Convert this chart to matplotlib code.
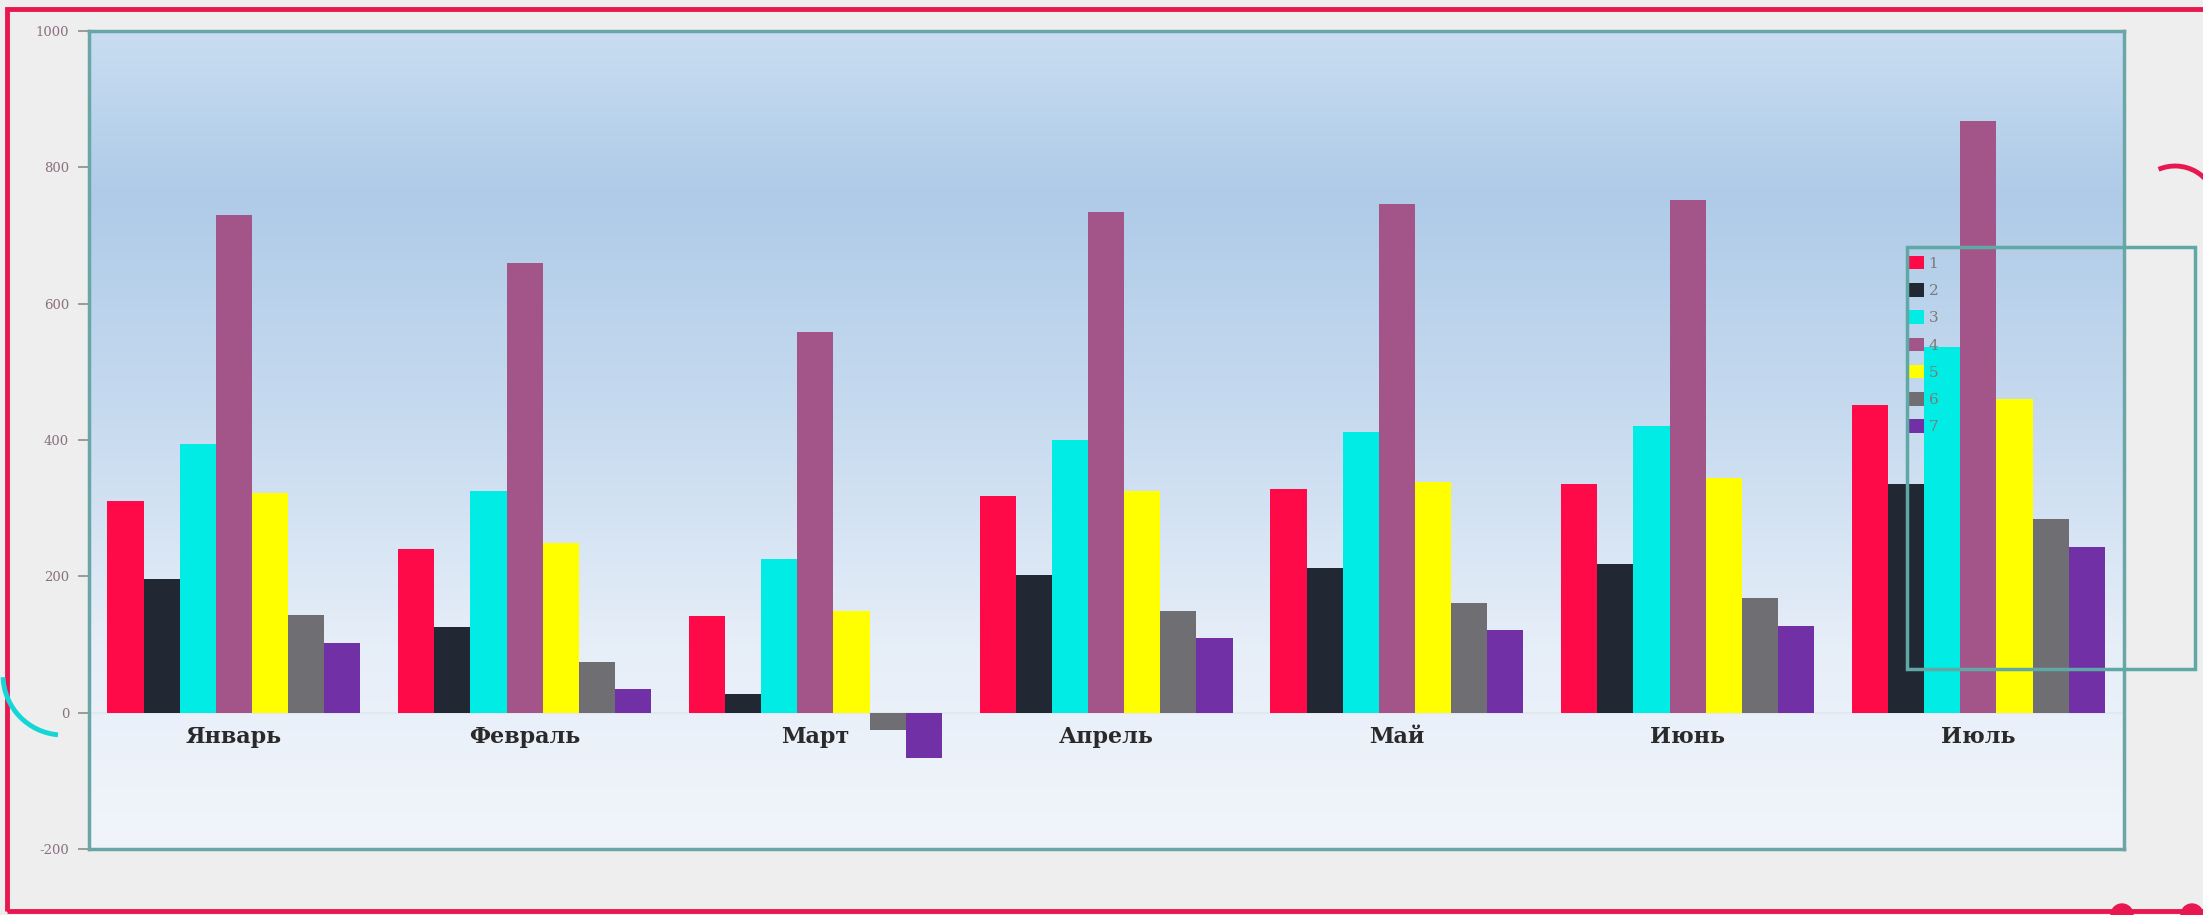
import matplotlib
matplotlib.use("Agg")
import matplotlib.pyplot as plt
import numpy as np
from matplotlib.colors import LinearSegmentedColormap
from matplotlib.patches import Rectangle, Arc, Ellipse

plt.rcParams["axes.unicode_minus"] = False

# Data
months = ["Январь", "Февраль", "Март", "Апрель", "Май", "Июнь", "Июль"]
series_names = ["1", "2", "3", "4", "5", "6", "7"]
s1 = [311, 241, 142, 318, 328, 336, 452]
s2 = [196, 126, 27, 202, 212, 218, 336]
s3 = [394, 326, 225, 400, 412, 420, 536]
s4 = [730, 660, 559, 734, 746, 752, 868]
s5 = [322, 249, 150, 326, 338, 344, 460]
s6 = [144, 74, -25, 150, 161, 169, 284]
s7 = [103, 35, -66, 109, 122, 128, 243]
series = [s1, s2, s3, s4, s5, s6, s7]
colors = ["#ff0a48", "#222833", "#00ece4", "#a3558a", "#ffff00", "#6f6f73", "#7230a6"]

fig = plt.figure(figsize=(22.03, 9.15), dpi=100, facecolor="#eeeeee")
ax = fig.add_axes([0.0402, 0.072, 0.9238, 0.894])

# gradient background of the plot area
grad = LinearSegmentedColormap.from_list(
    "bg", [(0.0, "#f1f5fb"), (0.25, "#e6eef8"), (0.5, "#c9dcf0"),
           (0.8, "#afcbe8"), (1.0, "#c8ddf1")])
ax.imshow(np.linspace(0, 1, 256).reshape(-1, 1), cmap=grad, origin="lower",
          extent=[0, 1, 0, 1], transform=ax.transAxes, aspect="auto", zorder=0)

x = np.arange(len(months))
n = len(series)
width = 0.87 / n
for i, (vals, c, name) in enumerate(zip(series, colors, series_names)):
    ax.bar(x - 0.435 + width * (i + 0.5), vals, width, color=c, label=name, zorder=3)

ax.axhline(0, color="#e2e8ef", lw=1.5, zorder=2)

ax.set_xlim(-0.5, 6.5)
ax.set_ylim(-200, 1000)
ax.set_xticks([])
ax.set_yticks(np.arange(-200, 1001, 200))
ax.tick_params(axis="y", direction="out", length=8, width=1.2, color="#8c8c8c",
               labelsize=9.5, labelcolor="#8a6f80", pad=6)
for lab in ax.get_yticklabels():
    lab.set_family("DejaVu Serif")

for i, m in enumerate(months):
    ax.text(x[i], -20, m, ha="center", va="top", fontsize=16, fontweight="bold",
            family="DejaVu Serif", color="#2a2a2a", zorder=4)

for sp in ax.spines.values():
    sp.set_color("#6aa6a6")
    sp.set_linewidth(2.5)

leg = ax.legend(loc="upper left", bbox_to_anchor=(1901 / 2203, 1 - 248 / 915),
                bbox_transform=fig.transFigure, frameon=False, fontsize=11,
                handlelength=1.0, handleheight=1.0, handletextpad=0.3,
                labelspacing=0.8, borderpad=0)
for t in leg.get_texts():
    t.set_color("#7a7a7a")
    t.set_family("DejaVu Serif")

# decorative shapes from the slide
fig.add_artist(Rectangle((1907 / 2203, 1 - 669 / 915), 288 / 2203, 422 / 915,
                         transform=fig.transFigure, fill=False,
                         edgecolor="#5fa8a6", lw=2.5))
fig.add_artist(Rectangle((7 / 2203, 4 / 915), 2300 / 2203, 902 / 915,
                         transform=fig.transFigure, fill=False,
                         edgecolor="#e8174f", lw=3.5))
fig.add_artist(Arc((63 / 2203, 1 - 675 / 915), 120 / 2203, 120 / 915,
                   theta1=185, theta2=268, transform=fig.transFigure,
                   color="#14d6d6", lw=3.5))
fig.add_artist(Arc((2175 / 2203, 1 - 208 / 915), 84 / 2203, 84 / 915,
                   theta1=20, theta2=100, transform=fig.transFigure,
                   color="#e8174f", lw=3.5))
for cx in (2122, 2192):
    fig.add_artist(Ellipse((cx / 2203, 0), 22 / 2203, 22 / 915,
                           transform=fig.transFigure, color="#e8174f"))

fig.savefig("out.png", dpi=100, facecolor=fig.get_facecolor())
